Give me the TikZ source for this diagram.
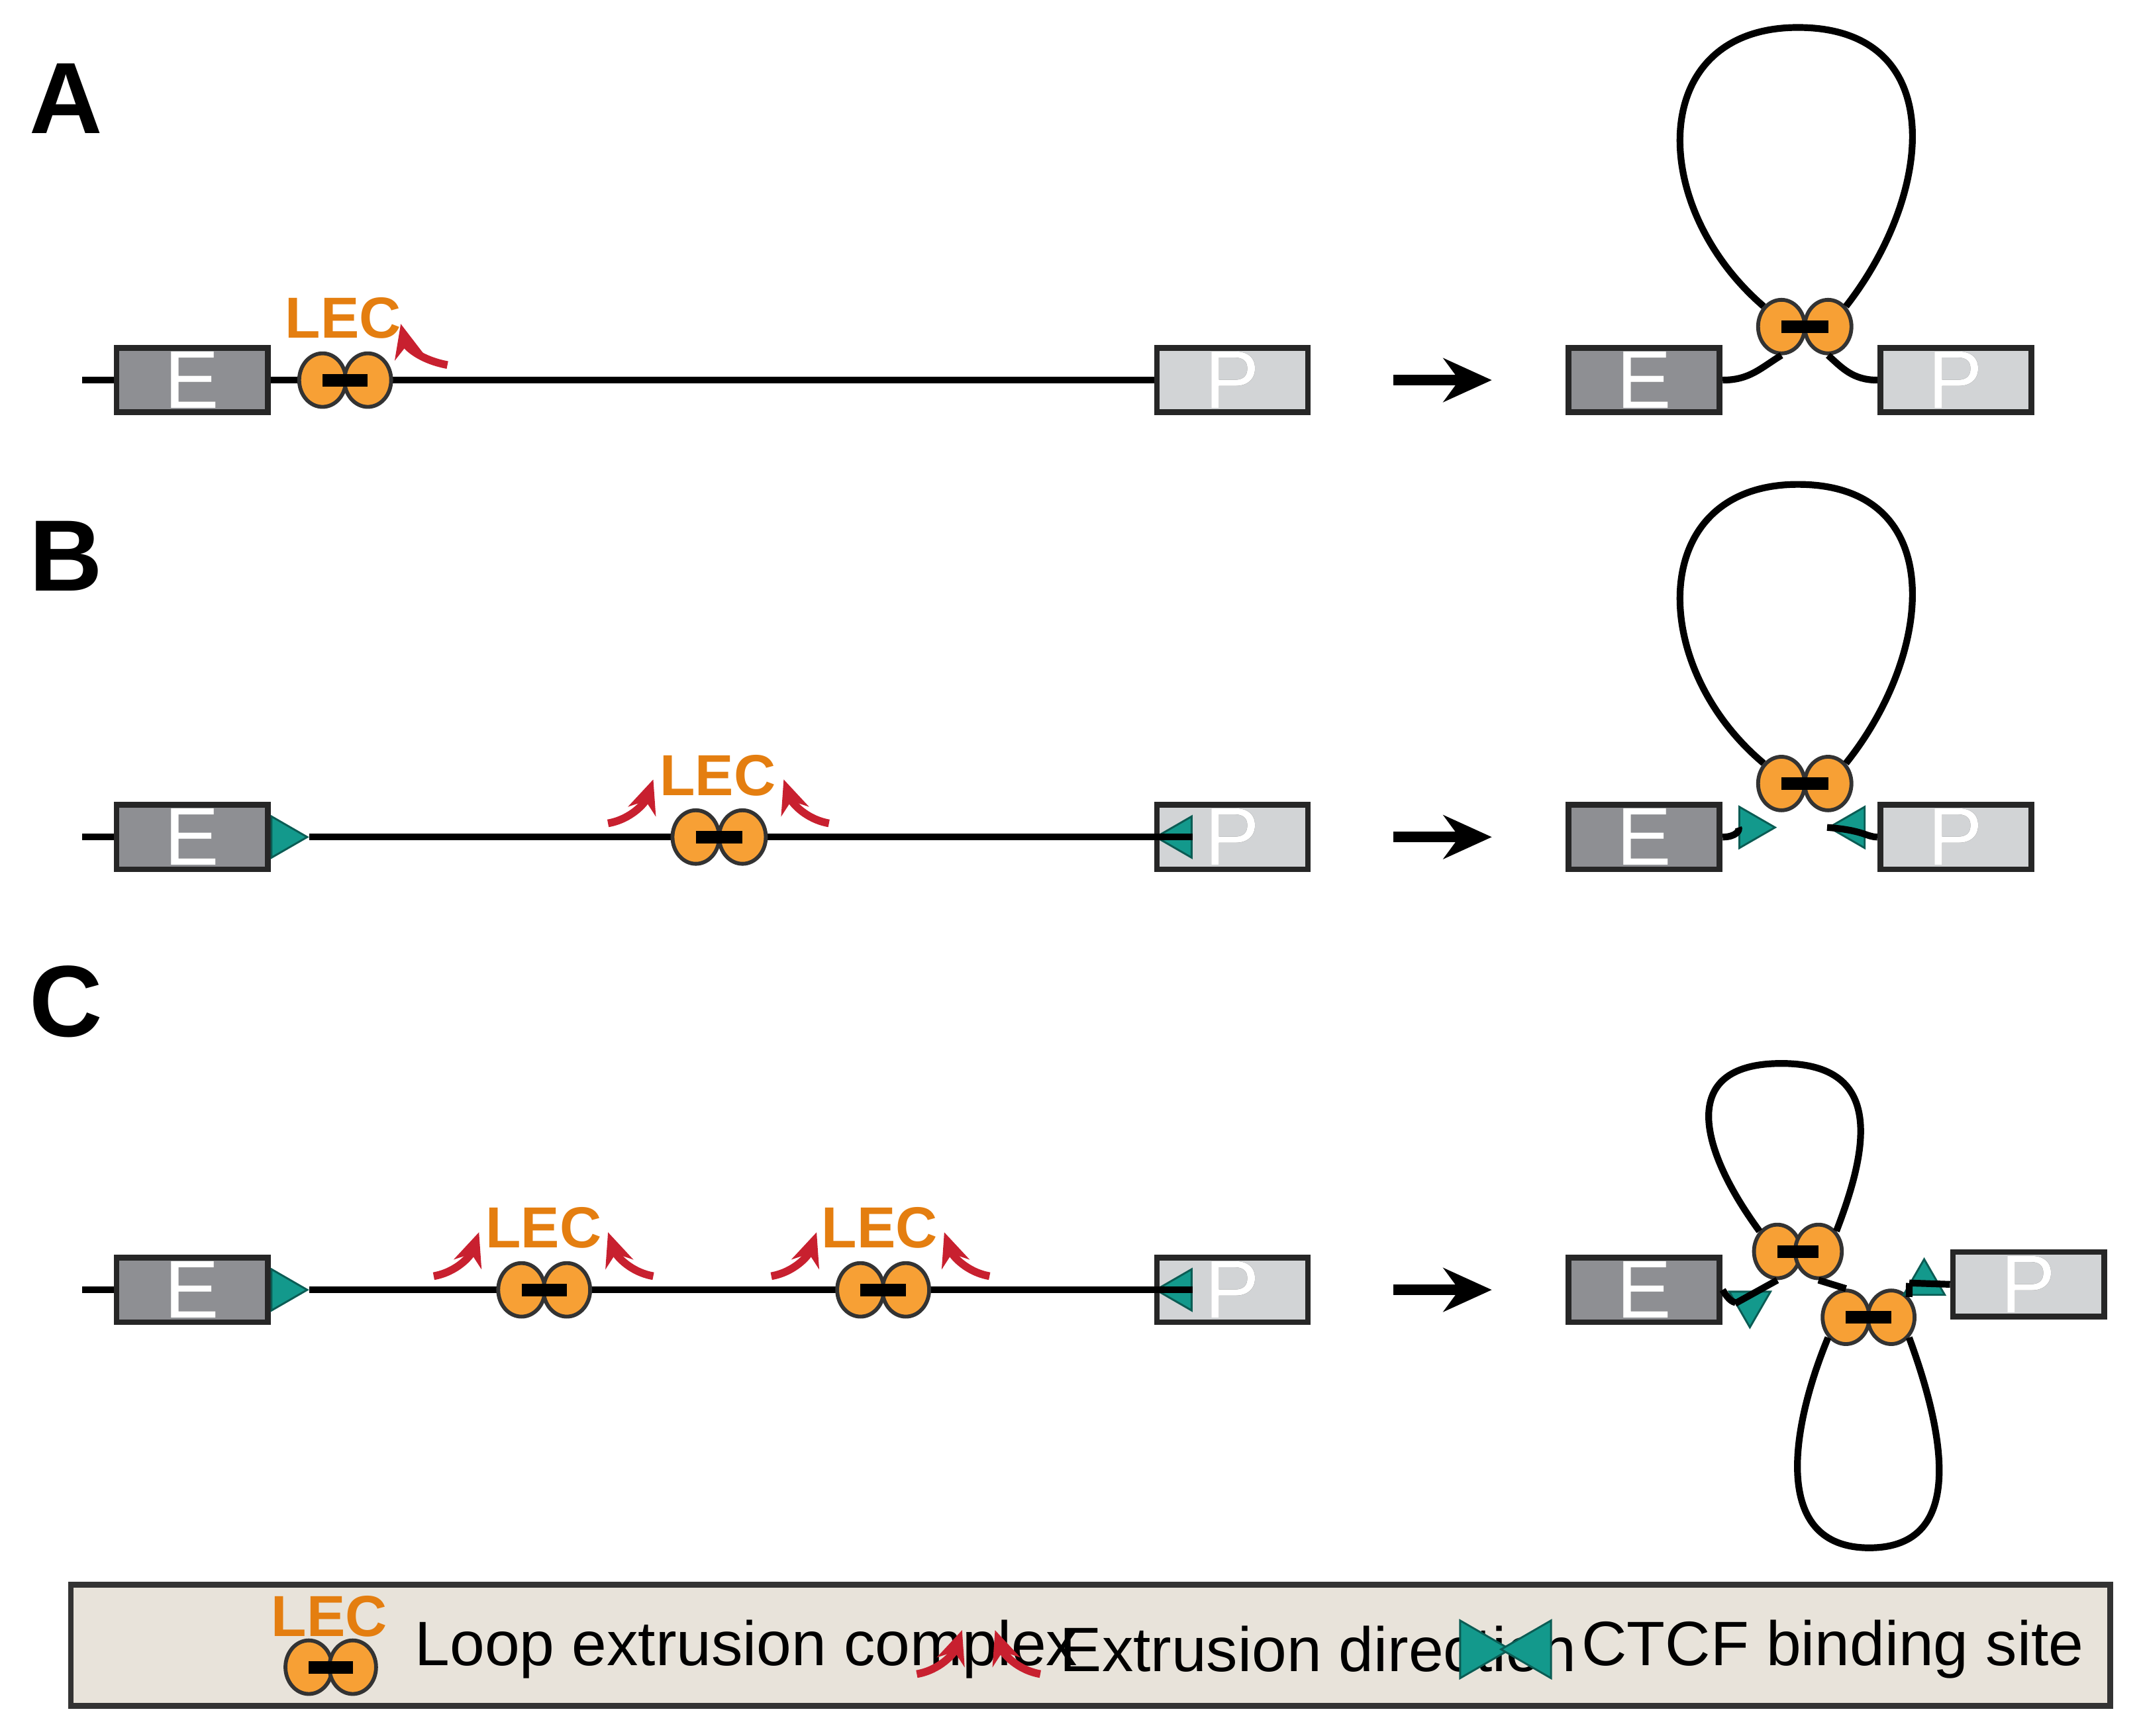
\documentclass[tikz,border=0pt]{standalone}
\usepackage{fontspec}
\setmainfont{Liberation Sans}
\usetikzlibrary{shapes.geometric,arrows.meta}
\usepackage[outline]{contour}
\contourlength{0.5pt}
\definecolor{eg}{HTML}{8E8F93}
\definecolor{pg}{HTML}{D2D4D6}
\definecolor{lo}{HTML}{F7A035}
\definecolor{lt}{HTML}{E47E10}
\definecolor{rd}{HTML}{C8202F}
\definecolor{tl}{HTML}{13998C}
\definecolor{bg}{HTML}{E8E3DA}
\tikzset{
 chrom/.style={line width=1.4pt,black},
 box/.style={draw=black!85,line width=1.2pt,minimum width=1.1cm,minimum height=0.47cm,inner sep=0pt,font=\fontsize{17}{17}\selectfont},
 ebox/.style={box,fill=eg},
 pbox/.style={box,fill=pg},
 lobe/.style={ellipse,draw=black!80,line width=0.8pt,fill=lo,minimum width=0.34cm,minimum height=0.39cm,inner sep=0pt},
 bar/.style={line width=2.6pt,black},
 lec/.style={font=\bfseries\fontsize{12}{12}\selectfont,text=lt},
 ext/.style={rd,line width=1.6pt,-{Stealth[length=7pt,width=6pt]}},
 ctcf/.style={isosceles triangle,isosceles triangle apex angle=60,fill=tl,draw=tl!60!black,line width=0.4pt,minimum width=0.3cm,minimum height=0.17cm,inner sep=0pt},
 pan/.style={font=\bfseries\fontsize{21}{21}\selectfont},
 big/.style={line width=2.2pt,-{Stealth[length=10pt,width=9pt]}},
 leg/.style={font=\fontsize{13}{13}\selectfont,anchor=west}
}
\newcommand{\ltr}[1]{\contour{black!70}{\textcolor{white}{#1}}}
\begin{document}
\begin{tikzpicture}[x=0.01cm,y=-0.01cm]
\useasboundingbox (0,0) rectangle (1560,1265);
% panel labels
\node[pan] (lA) at (48,72) {A};
\node[pan] (lB) at (48,405) {B};
\node[pan] (lC) at (48,730) {C};
% ===== A =====
\coordinate (a0) at (60,277);
\node[ebox] (aE) at (140,277) {\ltr{E}};
\node[pbox] (aP) at (898,277) {\ltr{P}};
\draw[chrom] (a0) -- (aE.west);
\draw[chrom] (aE.east) -- (aP.west);
\node[lobe] (a1) at (235,277) {};
\node[lobe] (a2) at (268,277) {};
\draw[bar] (a1.center) -- (a2.center);
\node[lec] (aL) at (250,232) {LEC};
\coordinate (ax1) at (326,266); \coordinate (ax2) at (292,236);
\draw[ext] (ax1) .. controls (305,262) and (296,252) .. (ax2);
\coordinate (ar1) at (1015,277); \coordinate (ar2) at (1087,277);
\draw[big] (ar1) -- (ar2);
\node[ebox] (AE) at (1198,277) {\ltr{E}};
\node[pbox] (AP) at (1425,277) {\ltr{P}};
\node[lobe] (A1) at (1298,238) {};
\node[lobe] (A2) at (1332,238) {};
\draw[chrom] (AE.east) .. controls (1275,277) and (1283,268) .. (A1.south);
\draw[chrom] (AP.west) .. controls (1350,277) and (1342,268) .. (A2.south);
\draw[chrom] (A1.north west) .. controls (1200,150) and (1200,20) .. (1310,20) .. controls (1420,20) and (1410,140) .. (A2.north east);
\draw[bar] (A1.center) -- (A2.center);
% ===== B =====
\coordinate (b0) at (60,610);
\node[ebox] (bE) at (140,610) {\ltr{E}};
\node[pbox] (bP) at (898,610) {\ltr{P}};
\node[ctcf,anchor=west] (bt1) at (bE.east) {};
\node[ctcf,shape border rotate=180,anchor=west] (bt2) at (bP.west) {};
\draw[chrom] (b0) -- (bE.west);
\draw[chrom] (bt1.east) -- (bt2.east);
\node[lobe] (b1) at (507,610) {};
\node[lobe] (b2) at (541,610) {};
\draw[bar] (b1.center) -- (b2.center);
\node[lec] (bL) at (523,565) {LEC};
\draw[ext] (443,600) .. controls (460,597) and (470,585) .. (476,568);
\draw[ext] (604,600) .. controls (587,597) and (577,585) .. (571,568);
\coordinate (br1) at (1015,610); \coordinate (br2) at (1087,610);
\draw[big] (br1) -- (br2);
\node[ebox] (BE) at (1198,610) {\ltr{E}};
\node[pbox] (BP) at (1425,610) {\ltr{P}};
\node[lobe] (B1) at (1298,571) {};
\node[lobe] (B2) at (1332,571) {};
\node[ctcf,shape border rotate=-20] (Bt1) at (1276,603) {};
\node[ctcf,shape border rotate=200] (Bt2) at (1350,603) {};
\draw[chrom] (BE.east) .. controls (1265,610) and (1268,605) .. (Bt1.west);
\draw[chrom] (BP.west) .. controls (1360,610) and (1358,605) .. (Bt2.west);
\draw[chrom] (B1.north west) .. controls (1200,485) and (1200,353) .. (1310,353) .. controls (1420,353) and (1410,475) .. (B2.north east);
\draw[bar] (B1.center) -- (B2.center);
% ===== C =====
\coordinate (c0) at (60,940);
\node[ebox] (cE) at (140,940) {\ltr{E}};
\node[pbox] (cP) at (898,940) {\ltr{P}};
\node[ctcf,anchor=west] (ct1) at (cE.east) {};
\node[ctcf,shape border rotate=180,anchor=west] (ct2) at (cP.west) {};
\draw[chrom] (c0) -- (cE.west);
\draw[chrom] (ct1.east) -- (ct2.east);
\node[lobe] (c1) at (380,940) {};
\node[lobe] (c2) at (413,940) {};
\draw[bar] (c1.center) -- (c2.center);
\node[lec] (cL1) at (396,895) {LEC};
\draw[ext] (316,930) .. controls (333,927) and (343,915) .. (349,898);
\draw[ext] (476,930) .. controls (459,927) and (449,915) .. (443,898);
\node[lobe] (c3) at (627,940) {};
\node[lobe] (c4) at (660,940) {};
\draw[bar] (c3.center) -- (c4.center);
\node[lec] (cL2) at (641,895) {LEC};
\draw[ext] (562,930) .. controls (579,927) and (589,915) .. (595,898);
\draw[ext] (721,930) .. controls (704,927) and (694,915) .. (688,898);
\coordinate (cr1) at (1015,940); \coordinate (cr2) at (1087,940);
\draw[big] (cr1) -- (cr2);
\node[ebox] (CE) at (1198,940) {\ltr{E}};
\node[pbox] (CP) at (1478,936) {\ltr{P}};
\node[lobe] (C1) at (1295,912) {};
\node[lobe] (C2) at (1325,912) {};
\node[lobe] (C3) at (1345,960) {};
\node[lobe] (C4) at (1378,960) {};
\node[ctcf,shape border rotate=-75] (Ct1) at (1275,950) {};
\node[ctcf,shape border rotate=105] (Ct2) at (1402,935) {};
\draw[chrom] (CE.east) .. controls (1262,952) and (1266,948) .. (Ct1.west);
\draw[chrom] (Ct1.west) -- (C1.south);
\draw[chrom] (C2.south) -- (C3.north);
\draw[chrom] (C4.north east) -- (Ct2.west);
\draw[chrom] (Ct2.west) -- (CP.west);
\draw[chrom] (C1.north west) .. controls (1240,840) and (1220,775) .. (1298,775) .. controls (1375,775) and (1360,840) .. (C2.north east);
\draw[chrom] (C3.south west) .. controls (1305,1040) and (1290,1128) .. (1362,1128) .. controls (1435,1128) and (1415,1040) .. (C4.south east);
\draw[bar] (C1.center) -- (C2.center);
\draw[bar] (C3.center) -- (C4.center);
% ===== legend =====
\node[draw=black!80,line width=1.2pt,fill=bg,minimum width=14.85cm,minimum height=0.88cm,inner sep=0pt] (legbox) at (794.5,1199) {};
\node[lobe] (L1) at (225,1215) {};
\node[lobe] (L2) at (257,1215) {};
\draw[bar] (L1.center) -- (L2.center);
\node[lec] (LL) at (240,1178) {LEC};
\node[leg] (t1) at (290,1202) {Loop extrusion complex};
\draw[ext] (668,1220) .. controls (685,1217) and (695,1205) .. (701,1188);
\draw[ext] (758,1220) .. controls (741,1217) and (731,1205) .. (725,1188);
\node[leg] (t2) at (760,1202) {Extrusion direction};
\node[ctcf,minimum width=0.42cm,minimum height=0.2cm] (Lt1) at (1076,1202) {};
\node[ctcf,minimum width=0.42cm,minimum height=0.2cm,shape border rotate=180] (Lt2) at (1118,1202) {};
\node[leg] (t3) at (1140,1202) {CTCF binding site};
\end{tikzpicture}
\end{document}
